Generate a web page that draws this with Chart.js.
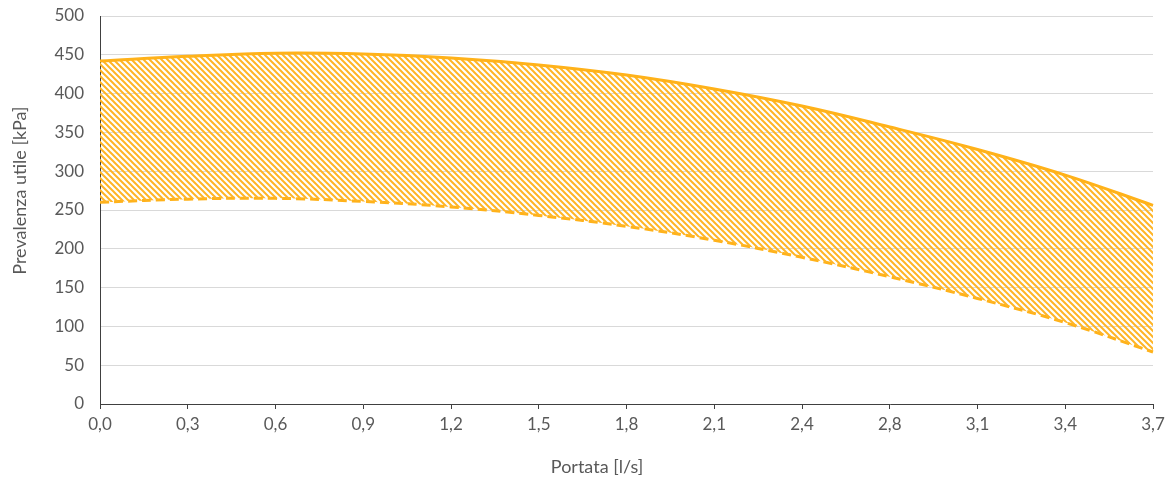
<!DOCTYPE html>
<html>
<head>
<meta charset="utf-8">
<script src="https://cdn.jsdelivr.net/npm/chart.js@4/dist/chart.umd.min.js"></script>
<style>
  html, body { margin: 0; padding: 0; background: #fff; }
  #wrap { width: 1174px; height: 485px; }
</style>
</head>
<body>
<div id="wrap"><canvas id="curve"></canvas></div>
<script>
// portata [l/s] and the two pump curves (max / min) in kPa
var portata = ['0,0', '0,3', '0,6', '0,9', '1,2', '1,5', '1,8', '2,1', '2,4', '2,8', '3,1', '3,4', '3,7'];
var prevMax = [442, 448, 452, 451, 446, 437, 424, 406, 384, 357, 328, 295, 256];
var prevMin = [260, 264, 265, 261, 254, 243, 229, 211, 189, 164, 136, 105, 67];
var yTicks = [0, 50, 100, 150, 200, 250, 300, 350, 400, 450, 500];

var orange = '#FFB21A';
var txt = '#595959';
var titleFont = '18px Lato';

// diagonal hatching between the two curves
function hatch() {
    var c = document.createElement('canvas');
    c.width = 6; c.height = 6;
    var g = c.getContext('2d');
    g.strokeStyle = '#FFB526';
    g.lineWidth = 2;
    g.beginPath();
    g.moveTo(-1, -1); g.lineTo(7, 7);
    g.moveTo(-1, 5); g.lineTo(1, 7);
    g.moveTo(5, -1); g.lineTo(7, 1);
    g.stroke();
    return g.createPattern(c, 'repeat');
}

// axis titles sit a bit off-centre, like the spreadsheet layout
var axisTitles = {
    id: 'axisTitles',
    afterDraw: function (chart) {
        var c = chart.ctx;
        var a = chart.chartArea;
        c.save();
        c.fillStyle = txt;
        c.font = titleFont;
        c.textAlign = 'center';
        c.textBaseline = 'middle';
        c.fillText('Portata [l/s]', chart.width / 2 + 10, chart.height - 18);
        c.translate(20, a.top + (a.bottom - a.top) * 0.45);
        c.rotate(-Math.PI / 2);
        c.fillText('Prevalenza utile [kPa]', 0, 0);
        c.restore();
    }
};

var ctx = document.getElementById('curve').getContext('2d');
var chart = new Chart(ctx, {
    type: 'line',
    data: {
        labels: portata,
        datasets: [{
            data: prevMax,
            borderColor: orange,
            borderWidth: 3,
            backgroundColor: hatch(),
            fill: '+1',
            tension: 0.4,
            pointRadius: 0
        }, {
            data: prevMin,
            borderColor: orange,
            borderWidth: 3,
            borderDash: [9, 5],
            fill: false,
            tension: 0.4,
            pointRadius: 0
        }]
    },
    plugins: [axisTitles],
    options: {
        responsive: true,
        maintainAspectRatio: false,
        animation: false,
        layout: { padding: { top: 16, right: 21, left: 0, bottom: 0 } },
        plugins: { legend: { display: false }, tooltip: { enabled: false } },
        scales: {
            x: {
                grid: { drawOnChartArea: false, tickLength: 5, color: '#404040', lineWidth: 1 },
                border: { color: '#404040', width: 1 },
                ticks: { color: txt, font: { family: 'Lato', size: 17 }, padding: 5, maxRotation: 0, autoSkip: false },
                afterFit: function (s) { s.height = 81; s.paddingLeft = 0; s.paddingRight = 0; }
            },
            y: {
                min: 0,
                max: 500,
                afterBuildTicks: function (s) { s.ticks = yTicks.map(function (v) { return { value: v }; }); },
                grid: { color: '#D9D9D9', lineWidth: 1, tickLength: 0 },
                border: { color: '#404040', width: 1 },
                ticks: { color: txt, font: { family: 'Lato', size: 17 }, padding: 16 },
                afterFit: function (s) { s.width = 100; s.paddingTop = 0; s.paddingBottom = 0; }
            }
        }
    }
});
</script>
</body>
</html>
